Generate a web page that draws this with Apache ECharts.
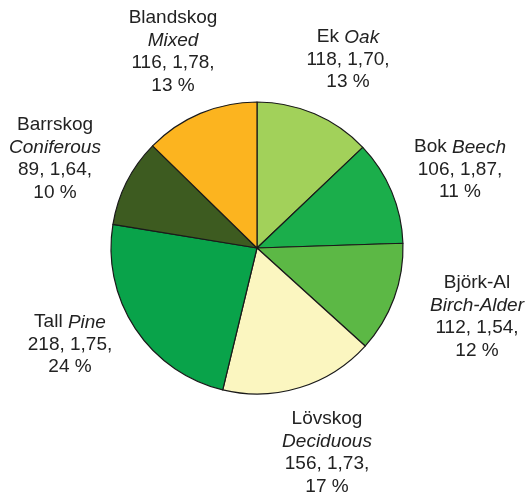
<!DOCTYPE html>
<html>
<head>
<meta charset="utf-8">
<script src="https://cdn.jsdelivr.net/npm/echarts@6/dist/echarts.min.js"></script>
<style>
  html, body { margin: 0; padding: 0; background: #ffffff; }
  #chart { width: 528px; height: 497px; }
</style>
</head>
<body>
<div id="chart"></div>
<script>
// Forest types: Swedish name, English name, count, mean value, share
const namesSv = ['Ek', 'Bok', 'Björk-Al', 'Lövskog', 'Tall', 'Barrskog', 'Blandskog'];
const namesEn = ['Oak', 'Beech', 'Birch-Alder', 'Deciduous', 'Pine', 'Coniferous', 'Mixed'];
const counts = [118, 106, 112, 156, 218, 89, 116];
const means = ['1,70', '1,87', '1,54', '1,73', '1,75', '1,64', '1,78'];
const shares = [13, 11, 12, 17, 24, 10, 13];

const colors = ['#a2d15a', '#1bae4b', '#5cb845', '#fbf6c0', '#09a34a', '#3d5b20', '#fcb41f'];
// names that share a line with their English counterpart
const sameLine = [true, true, false, false, true, false, false];
// label anchor (top-centre of each text block)
const labelAnchors = [
  [348, 26], [460, 136], [477, 272], [327, 408],
  [70, 311], [55, 114], [173, 7]
];

const FONT = "'Liberation Sans', Arial, sans-serif";

const data = namesSv.map((n, i) => ({
  name: n,
  value: counts[i],
  itemStyle: { color: colors[i] }
}));

const chart = echarts.init(document.getElementById('chart'), null, { renderer: 'canvas' });
chart.setOption({
  animation: false,
  backgroundColor: '#ffffff',
  series: [{
    type: 'pie',
    center: [257, 248],
    radius: [0, 146],
    startAngle: 90,
    clockwise: true,
    data: data,
    itemStyle: { borderColor: '#1a1a1a', borderWidth: 1.2 },
    emphasis: { disabled: true },
    labelLine: { show: false },
    label: {
      show: true,
      position: 'outside',
      overflow: 'none',
      color: '#222222',
      fontFamily: FONT,
      fontSize: 19,
      lineHeight: 22.5,
      align: 'center',
      formatter: function (p) {
        const i = p.dataIndex;
        const head = sameLine[i]
          ? namesSv[i] + ' {i|' + namesEn[i] + '}'
          : namesSv[i] + '\n{i|' + namesEn[i] + '}';
        return head + '\n' + counts[i] + ', ' + means[i] + ',\n' + shares[i] + ' %';
      },
      rich: {
        i: {
          fontStyle: 'italic',
          fontFamily: FONT,
          fontSize: 19,
          lineHeight: 22.5,
          color: '#222222'
        }
      }
    },
    labelLayout: function (p) {
      const a = labelAnchors[p.dataIndex];
      return { x: a[0], y: a[1], align: 'center', verticalAlign: 'top', hideOverlap: false };
    }
  }]
});
</script>
</body>
</html>
